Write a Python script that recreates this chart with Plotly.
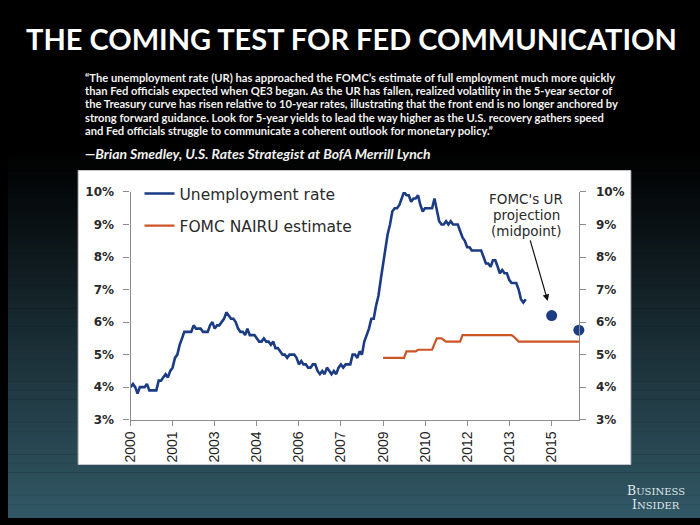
import plotly.graph_objects as go
import pandas as pd

# ---------------- data ----------------
ur_2000 = [4.0, 4.1, 4.0, 3.8, 4.0, 4.0, 4.0, 4.1, 3.9, 3.9, 3.9, 3.9]
ur_2001 = [4.2, 4.2, 4.3, 4.4, 4.3, 4.5, 4.6, 4.9, 5.0, 5.3, 5.5, 5.7]
ur_2002 = [5.7, 5.7, 5.7, 5.9, 5.8, 5.8, 5.8, 5.7, 5.7, 5.7, 5.9, 6.0]
ur_2003 = [5.8, 5.9, 5.9, 6.0, 6.1, 6.3, 6.2, 6.1, 6.1, 6.0, 5.8, 5.7]
ur_2004 = [5.7, 5.6, 5.8, 5.6, 5.6, 5.6, 5.5, 5.4, 5.4, 5.5, 5.4, 5.4]
ur_2005 = [5.3, 5.4, 5.2, 5.2, 5.1, 5.0, 5.0, 4.9, 5.0, 5.0, 5.0, 4.9]
ur_2006 = [4.7, 4.8, 4.7, 4.7, 4.6, 4.6, 4.7, 4.7, 4.5, 4.4, 4.5, 4.4]
ur_2007 = [4.6, 4.5, 4.4, 4.5, 4.4, 4.6, 4.7, 4.6, 4.7, 4.7, 4.7, 5.0]
ur_2008 = [5.0, 4.9, 5.1, 5.0, 5.4, 5.6, 5.8, 6.1, 6.1, 6.5, 6.8, 7.3]
ur_2009 = [7.8, 8.3, 8.7, 9.0, 9.4, 9.5, 9.5, 9.6, 9.8, 10.0, 9.9, 9.9]
ur_2010 = [9.7, 9.8, 9.8, 9.9, 9.6, 9.4, 9.5, 9.5, 9.5, 9.5, 9.8, 9.4]
ur_2011 = [9.1, 9.0, 9.0, 9.1, 9.0, 9.1, 9.0, 9.0, 9.0, 8.8, 8.6, 8.5]
ur_2012 = [8.3, 8.3, 8.2, 8.2, 8.2, 8.2, 8.2, 8.0, 7.8, 7.8, 7.7, 7.9]
ur_2013 = [7.9, 7.7, 7.5, 7.6, 7.5, 7.5, 7.3, 7.2, 7.2, 7.2, 7.0, 6.7]
ur_2014 = [6.6, 6.7]

nairu_dates = ["2009-01-01", "2009-10-01", "2009-11-01", "2010-03-01", "2010-04-01",
               "2010-10-01", "2010-12-01", "2011-02-01", "2011-04-01", "2011-10-01",
               "2011-11-01", "2013-08-01", "2013-09-01", "2013-11-01", "2016-01-01"]
nairu_values = [4.9, 4.9, 5.1, 5.1, 5.15, 5.15, 5.5, 5.5, 5.4, 5.4, 5.6, 5.6, 5.55, 5.4, 5.4]

proj_dates = ["2015-01-05", "2015-12-25"]
proj_values = [6.2, 5.75]

tick_dates = ["2000-01-01", "2001-07-01", "2003-01-01", "2004-07-01", "2006-01-01",
              "2007-07-01", "2009-01-01", "2010-07-01", "2012-01-01", "2013-07-01",
              "2015-01-01"]
tick_labels = ["2000", "2001", "2003", "2004", "2006", "2007", "2009", "2010",
               "2012", "2013", "2015"]
y_ticks = [3, 4, 5, 6, 7, 8, 9, 10]
y_labels = ["3%", "4%", "5%", "6%", "7%", "8%", "9%", "10%"]

title_text = "THE COMING TEST FOR FED COMMUNICATION"
quote_lines = [
    "“The unemployment rate (UR) has approached the FOMC’s estimate of full employment much more quickly",
    "than Fed officials expected when QE3 began. As the UR has fallen, realized volatility in the 5-year sector of",
    "the Treasury curve has risen relative to 10-year rates, illustrating that the front end is no longer anchored by",
    "strong forward guidance. Look for 5-year yields to lead the way higher as the U.S. recovery gathers speed",
    "and Fed officials struggle to communicate a coherent outlook for monetary policy.”",
]
attribution = "—Brian Smedley, U.S. Rates Strategist at BofA Merrill Lynch"

ur_values = (ur_2000 + ur_2001 + ur_2002 + ur_2003 + ur_2004 + ur_2005 + ur_2006 +
             ur_2007 + ur_2008 + ur_2009 + ur_2010 + ur_2011 + ur_2012 + ur_2013 + ur_2014)
ur_dates = pd.date_range("2000-01-01", periods=len(ur_values), freq="MS")

# ---------------- figure ----------------
W, H = 700, 525
def px(x):
    return x / W
def py(y):
    return 1 - y / H

BLUE = "#1b3b85"
ORANGE = "#cc5526"
AXC = "#8c8c8c"
TXT = "#2a2a2a"

fig = go.Figure()
fig.add_trace(go.Scatter(x=ur_dates, y=ur_values, mode="lines", name="Unemployment rate",
                         line=dict(color=BLUE, width=2.6), legend="legend"))
fig.add_trace(go.Scatter(x=nairu_dates, y=nairu_values, mode="lines", name="FOMC NAIRU estimate",
                         line=dict(color=ORANGE, width=2.2), legend="legend2"))
fig.add_trace(go.Scatter(x=proj_dates, y=proj_values, mode="markers", showlegend=False,
                         marker=dict(color=BLUE, size=11), yaxis="y2", cliponaxis=False))

# background gradient
shapes = []
N = 80
top_px, bot_px = 150, 525
c0 = (0, 0, 0)
c1 = (50, 88, 102)
for i in range(N):
    y0 = top_px + (bot_px - top_px) * i / N
    y1 = top_px + (bot_px - top_px) * (i + 1) / N + 0.5
    t = (i + 0.5) / N
    col = tuple(int(round(c0[k] + (c1[k] - c0[k]) * t)) for k in range(3))
    shapes.append(dict(type="rect", xref="paper", yref="paper", x0=0, x1=1,
                       y0=py(min(y1, H)), y1=py(y0), line=dict(width=0),
                       fillcolor="rgb(%d,%d,%d)" % col, layer="below"))
# white chart box
shapes.append(dict(type="rect", xref="paper", yref="paper", x0=px(71), x1=px(630),
                   y0=py(470), y1=py(168), line=dict(color="#c8c8c8", width=1),
                   fillcolor="white", layer="below"))

annotations = []
annotations.append(dict(text="<b>" + title_text + "</b>", x=px(347), y=py(32),
                        xref="paper", yref="paper", showarrow=False, xanchor="center",
                        yanchor="middle", font=dict(family="Lato", size=29, color="white")))
for i, line in enumerate(quote_lines):
    annotations.append(dict(text="<b>" + line + "</b>", x=px(76), y=py(72 + 13.8 * i),
                            xref="paper", yref="paper", showarrow=False, xanchor="left",
                            yanchor="middle", font=dict(family="Lato", size=11.2, color="#f2f2f2")))
annotations.append(dict(text="<b><i>" + attribution + "</i></b>", x=px(76), y=py(150),
                        xref="paper", yref="paper", showarrow=False, xanchor="left",
                        yanchor="middle", font=dict(family="Lato", size=14, color="#f2f2f2")))
# FOMC projection label and arrow
for i, line in enumerate(["FOMC's UR", "projection", "(midpoint)"]):
    annotations.append(dict(text=line, x=px(524), y=py(197 + 16.5 * i), xref="paper", yref="paper",
                            showarrow=False, xanchor="center", yanchor="middle",
                            font=dict(family="DejaVu Sans", size=13.5, color=TXT)))
annotations.append(dict(x=px(546), y=py(302), ax=-18, ay=-62, xref="paper", yref="paper",
                        axref="pixel", ayref="pixel", text="", showarrow=True, arrowhead=2,
                        arrowsize=1.1, arrowwidth=1.2, arrowcolor="#111111"))
# Business Insider logo
annotations.append(dict(text="B<span style='font-size:10px'>USINESS</span>", x=px(655), y=py(497),
                        xref="paper", yref="paper", showarrow=False, xanchor="center", yanchor="middle",
                        font=dict(family="DejaVu Serif", size=12.5, color="#dfe7ea")))
annotations.append(dict(text="I<span style='font-size:10px'>NSIDER</span>", x=px(655), y=py(511),
                        xref="paper", yref="paper", showarrow=False, xanchor="center", yanchor="middle",
                        font=dict(family="DejaVu Serif", size=12.5, color="#dfe7ea")))

yfont = dict(family="DejaVu Sans", size=12, color=TXT, weight="bold")
fig.update_layout(
    width=W, height=H, margin=dict(l=0, r=0, t=0, b=0),
    paper_bgcolor="black", plot_bgcolor="rgba(0,0,0,0)",
    shapes=shapes, annotations=annotations,
    xaxis=dict(domain=[px(124), px(578)], range=["2000-01-01", "2016-01-01"], type="date",
               tickvals=tick_dates, ticktext=tick_labels, tickangle=-90,
               showline=True, linecolor=AXC, linewidth=1.2, ticks="outside", ticklen=5,
               tickcolor=AXC, showgrid=False, zeroline=False,
               tickfont=dict(family="Liberation Sans", size=14, color="#1e1e1e"),
               anchor="y"),
    yaxis=dict(domain=[py(424), py(190)], range=[3, 10], tickvals=y_ticks, ticktext=y_labels,
               showline=True, linecolor=AXC, linewidth=1.2, ticks="outside", ticklen=6,
               tickcolor=AXC, showgrid=False, zeroline=False, ticklabelstandoff=7,
               tickfont=yfont, anchor="x"),
    yaxis2=dict(range=[3, 10], tickvals=y_ticks, ticktext=y_labels, overlaying="y", side="right",
                showline=True, linecolor=AXC, linewidth=1.2, ticks="outside", ticklen=6,
                tickcolor=AXC, showgrid=False, zeroline=False, ticklabelstandoff=7,
                tickfont=yfont, anchor="x"),
    legend=dict(x=px(133), y=py(192), xanchor="left", yanchor="middle", bgcolor="rgba(0,0,0,0)",
                font=dict(family="DejaVu Sans", size=15.5, color=TXT)),
    legend2=dict(x=px(133), y=py(225), xanchor="left", yanchor="middle", bgcolor="rgba(0,0,0,0)",
                 font=dict(family="DejaVu Sans", size=15.5, color=TXT)),
)

fig.write_html("out.html", config={"displayModeBar": False},
               post_script="document.body.style.margin='0';document.body.style.padding='0';document.body.style.overflow='hidden';")
